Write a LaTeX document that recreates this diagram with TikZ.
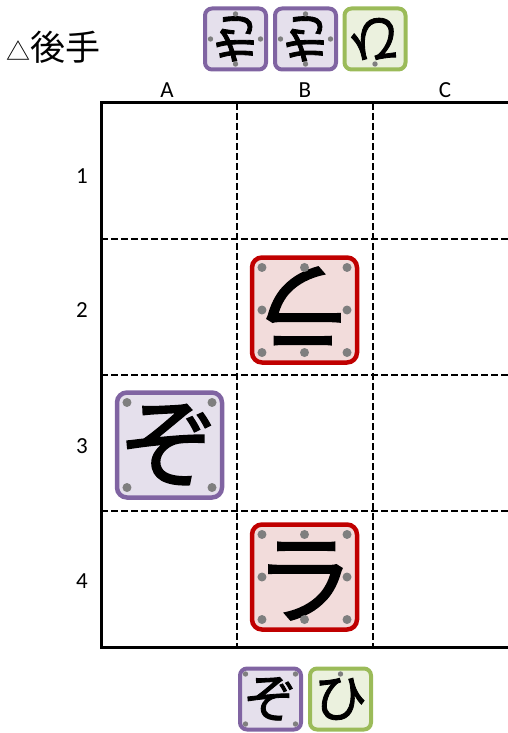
\documentclass[tikz,border=0pt]{standalone}
\usepackage{fontspec}
\setmainfont{Carlito}
\newfontfamily\jpfont{Noto Sans CJK JP}
\newfontfamily\komafont[FakeBold=1.6]{Noto Sans CJK JP}
\usepackage{tikz}
\usetikzlibrary{calc}
\definecolor{KomaRed}{HTML}{C00000}
\definecolor{KomaRedBg}{HTML}{F2DCDB}
\definecolor{KomaPurple}{HTML}{8064A2}
\definecolor{KomaPurpleBg}{HTML}{E5E0EC}
\definecolor{KomaGreen}{HTML}{9BBB59}
\definecolor{KomaGreenBg}{HTML}{EBF1DE}
\definecolor{PegGray}{HTML}{7F7F7F}
\tikzset{
  edgeline/.style  = {black, line width=3pt},
  gridline/.style  = {black, line width=2pt, dash pattern=on 7pt off 3pt},
  coordlbl/.style  = {font=\fontsize{23}{23}\selectfont, inner sep=0pt},
  komabig/.style   = {rounded corners=10pt, minimum size=105pt, line width=4.5pt,
                      inner sep=0pt, outer sep=0pt, font=\komafont\fontsize{99}{99}\selectfont},
  komasmall/.style = {rounded corners=7pt, minimum size=61pt, line width=4pt,
                      inner sep=0pt, outer sep=0pt, font=\komafont\fontsize{53}{53}\selectfont},
  lowglyph/.style   = {text height=78pt, text depth=0pt},
  redkoma/.style    = {draw=KomaRed, fill=KomaRedBg},
  purplekoma/.style = {draw=KomaPurple, fill=KomaPurpleBg},
  greenkoma/.style  = {draw=KomaGreen, fill=KomaGreenBg},
  gote/.style       = {rotate=180},
  peg/.style        = {fill=PegGray}
}

\begin{document}
\begin{tikzpicture}[x=1pt,y=-1pt]
  \useasboundingbox (0,0) rectangle (508,733);
  \clip (0,0) rectangle (508,733);
  % board
  \foreach \gx in {237,373}
    \draw[gridline] (\gx,103) -- (\gx,647);
  \foreach \gy in {239,375,511}
    \draw[gridline] (101,\gy) -- (512,\gy);
  \draw[edgeline] (512,103) -- (101,103) -- (101,647) -- (512,647);
  \foreach \lab/\gx in {A/167,B/305,C/445}
    \node[coordlbl] (col\lab) at (\gx,90) {\lab};
  \foreach \lab/\gy in {1/176,2/310,3/446,4/581}
    \node[coordlbl] (row\lab) at (82,\gy) {\lab};
  \node[anchor=west, inner sep=0pt, font=\jpfont\fontsize{35}{35}\selectfont]
       (gotelbl) at (6,47) {{\fontsize{24}{24}\selectfont △}後手};
  % pieces on the board
  \node[komabig,redkoma,lowglyph,gote] (b2) at (304.5,310) {ラ};
  \node[komabig,purplekoma] (a3) at (169.5,445) {ぞ};
  \node[komabig,redkoma,lowglyph] (b4) at (304.5,577) {ラ};
  % pieces in hand
  \node[komasmall,purplekoma,gote] (hki1) at (235.5,39) {き};
  \node[komasmall,purplekoma,gote] (hki2) at (305.5,39) {き};
  \node[komasmall,greenkoma,gote] (hhi1) at (375,39) {ひ};
  \node[komasmall,purplekoma] (hzo) at (270.5,699) {ぞ};
  \node[komasmall,greenkoma] (hhi2) at (340.5,699) {ひ};
  % movement pegs
  \foreach \k in {b2,b4}
    \foreach \a in {north west,north,north east,west,east,south west,south,south east}
      \fill[peg] ($(\k.center)!0.81!(\k.\a)$) circle (4.5pt);
  \foreach \a in {north west,north east,south west,south east}
    \fill[peg] ($(a3.center)!0.81!(a3.\a)$) circle (4.5pt);
  \foreach \k in {hki1,hki2}
    \foreach \a in {north,west,east,south}
      \fill[peg] ($(\k.center)!0.82!(\k.\a)$) circle (2.7pt);
  \foreach \a in {north west,north east,south west,south east}
    \fill[peg] ($(hzo.center)!0.82!(hzo.\a)$) circle (2.7pt);
  \foreach \k in {hhi1,hhi2}
    \fill[peg] ($(\k.center)!0.82!(\k.north)$) circle (2.7pt);
\end{tikzpicture}
\end{document}
